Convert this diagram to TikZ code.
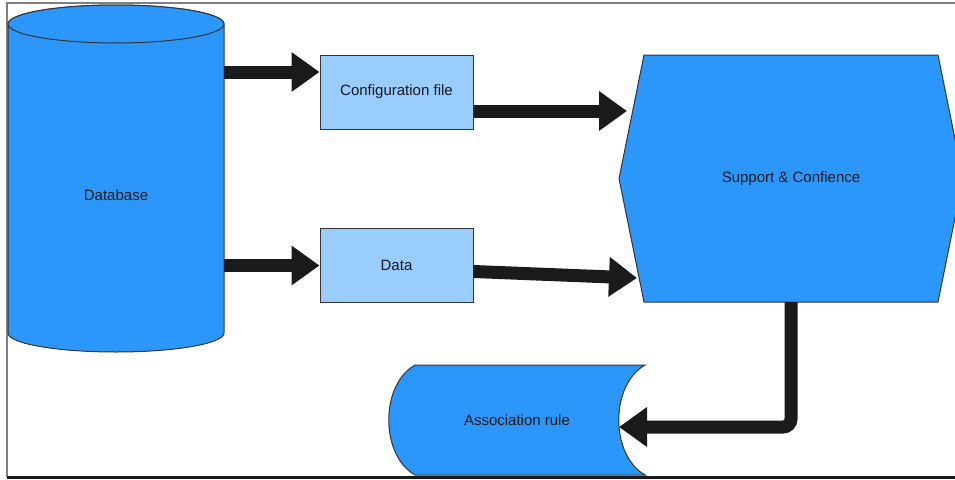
\documentclass[tikz,border=0pt]{standalone}
\usepackage{fontspec}
\setmainfont{Liberation Sans}
\usetikzlibrary{arrows.meta}
\definecolor{dbblue}{RGB}{44,151,250}
\definecolor{fileblue}{RGB}{153,204,255}
\definecolor{flowgray}{RGB}{26,26,26}

\begin{document}
\begin{tikzpicture}[x=1pt,y=-1pt,
    every node/.style={font=\fontsize{15}{18}\selectfont,text=black!90},
    bigshape/.style={fill=dbblue,draw=black!80,line width=1pt},
    filebox/.style={fill=fileblue,draw=black!80,line width=1pt,minimum width=153pt,minimum height=74pt},
    flow/.style={draw=flowgray,line width=13pt,-{Triangle[length=28pt,width=38pt]}}]
    \useasboundingbox (0,0) rectangle (955,479);
    % frame
    \draw[gray,line width=1.5pt] (955,3) -- (7,3) -- (7,477);
    \draw[black!90,line width=3pt] (7,477.5) -- (955,477.5);

    % shapes
    \draw[bigshape] (8,24) -- (8,333) arc[start angle=180,end angle=360,x radius=108pt,y radius=19pt]
        -- (224,24) arc[start angle=0,end angle=180,x radius=108pt,y radius=19pt] -- cycle;
    \draw[bigshape] (116,24) ellipse [x radius=108pt,y radius=19pt];
    \draw[bigshape] (644,55) -- (938,55) -- (963,178.5) -- (938,302) -- (644,302) -- (619,178.5) -- cycle;
    \draw[bigshape] (415,365) -- (645,365) .. controls (610,385) and (610,455) .. (645,475)
        -- (415,475) .. controls (380,455) and (380,385) .. (415,365) -- cycle;

    % nodes
    \node[minimum width=216pt] (db) at (116,195) {Database};
    \node[filebox] (cfg) at (396.5,92) {Configuration file};
    \node[filebox] (data) at (396.5,265.5) {Data};
    \node[minimum width=294pt,minimum height=247pt] (sc) at (791,178.5) {Support \& Confience};
    \node[minimum width=256pt,minimum height=110pt] (ar) at (517,420) {Association rule};

    % connectors
    \coordinate (cfgin) at ([yshift=20pt]cfg.west);
    \coordinate (scin1) at (627,111);
    \coordinate (scin2) at (637,278);
    \coordinate (arin) at (619,427);
    \draw[flow] (db.east |- cfgin) -- (cfgin);
    \draw[flow] (db.east |- data.west) -- (data.west);
    \draw[flow] (cfg.east |- scin1) -- (scin1);
    \draw[flow] ([yshift=-6pt]data.east) -- (scin2);
    \draw[flow,rounded corners=8pt] (sc.south) |- (arin);
\end{tikzpicture}
\end{document}
